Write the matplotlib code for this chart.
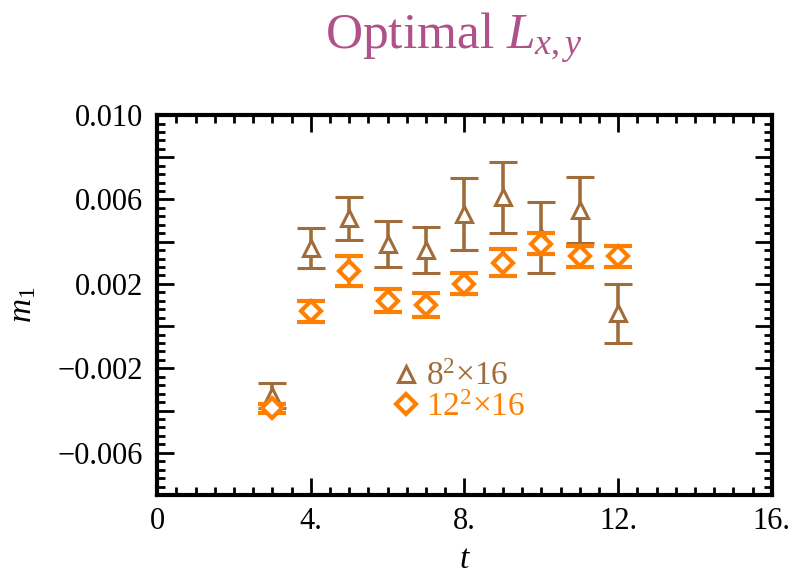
import matplotlib
matplotlib.use("Agg")
import matplotlib.pyplot as plt
from matplotlib.lines import Line2D
from matplotlib.ticker import MultipleLocator, FixedLocator, FixedFormatter

plt.rcParams['font.family'] = ['Liberation Serif', 'DejaVu Serif']
plt.rcParams['mathtext.fontset'] = 'custom'
plt.rcParams['mathtext.rm'] = 'Liberation Serif'
plt.rcParams['mathtext.it'] = 'Liberation Serif:italic'

# time slices
t = [3, 4, 5, 6, 7, 8, 9, 10, 11, 12]

# 8^2 x 16 lattice
m1_small = [-0.0033, 0.0037, 0.0051, 0.0039, 0.0036, 0.0053, 0.0061, 0.0042, 0.0055, 0.0006]
err_small = [0.0006, 0.00095, 0.0010, 0.0011, 0.0011, 0.0017, 0.0017, 0.0017, 0.00155, 0.0014]

# 12^2 x 16 lattice
m1_large = [-0.0039, 0.0007, 0.0026, 0.0012, 0.0010, 0.0020, 0.0030, 0.0039, 0.0033, 0.0033]
err_large = [0.0002, 0.0005, 0.0007, 0.00055, 0.00055, 0.0005, 0.00064, 0.0005, 0.0005, 0.0005]

brown = '#a06d3a'
orange = '#ff7f00'

fig = plt.figure(figsize=(7.94, 5.8), dpi=100)
ax = fig.add_axes([0.198, 0.1466, 0.774, 0.655])

ax.errorbar(t, m1_small, yerr=err_small, fmt='^', color=brown, mfc='white',
            mec=brown, mew=2.2, ms=11, ecolor=brown, elinewidth=2.6,
            capsize=10, capthick=2.8, zorder=2)
ax.errorbar(t, m1_large, yerr=err_large, fmt='D', color=orange, mfc='white',
            mec=orange, mew=3.0, ms=10, ecolor=orange, elinewidth=2.6,
            capsize=10, capthick=2.8, zorder=3)

ax.set_xlim(0, 16)
ax.set_ylim(-0.008, 0.010)

# ticks: labelled every 4 in t, every 0.004 in m1
ax.xaxis.set_major_locator(FixedLocator([0, 4, 8, 12, 16]))
ax.xaxis.set_major_formatter(FixedFormatter(['0', '4.', '8.', '12.', '16.']))
ax.xaxis.set_minor_locator(MultipleLocator(0.5))
yt = [-0.008, -0.006, -0.004, -0.002, 0.0, 0.002, 0.004, 0.006, 0.008, 0.010]
ylab = ['', '\u22120.006', '', '\u22120.002', '', '0.002', '', '0.006', '', '0.010']
ax.yaxis.set_major_locator(FixedLocator(yt))
ax.yaxis.set_major_formatter(FixedFormatter(ylab))
ax.yaxis.set_minor_locator(MultipleLocator(0.0004))

ax.tick_params(which='both', direction='in', top=True, right=True,
               labelsize=22, width=2.0)
ax.tick_params(axis='y', pad=10)
ax.tick_params(axis='x', pad=9)
ax.tick_params(which='major', length=12)
ax.tick_params(which='minor', length=5.5)
for s in ax.spines.values():
    s.set_linewidth(3.0)

ax.set_xlabel('$t$', fontsize=24, labelpad=6)
ax.set_ylabel('$m_1$', fontsize=24, labelpad=14)

fig.text(0.572, 0.915, 'Optimal $L_{x,y}$', color='#b0528a', fontsize=37,
         ha='center', va='baseline')

handles = [
    Line2D([], [], ls='none', marker='^', ms=11, mfc='white', mec=brown, mew=2.2),
    Line2D([], [], ls='none', marker='D', ms=10, mfc='white', mec=orange, mew=3.0),
]
leg = ax.legend(handles, ['$8^2{\\times}16$', '$12^2{\\times}16$'],
                loc='center left', bbox_to_anchor=(0.356, 0.27), frameon=False,
                fontsize=24, handlelength=0.8, handletextpad=0.2, labelspacing=0.0,
                borderpad=0)
for txt, c in zip(leg.get_texts(), [brown, orange]):
    txt.set_color(c)

fig.savefig('out.png', dpi=100)
